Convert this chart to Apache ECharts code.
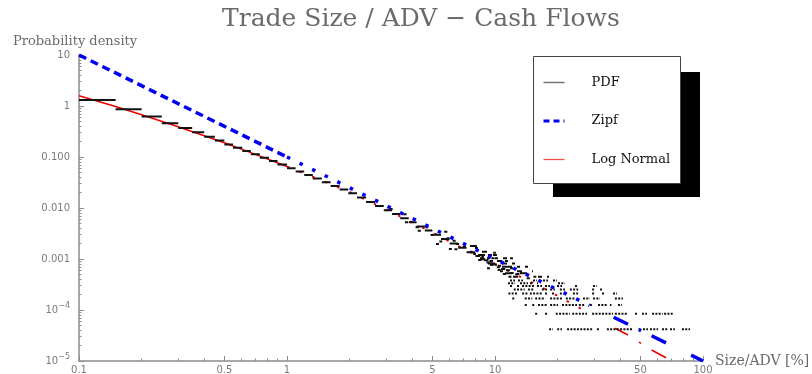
<!DOCTYPE html>
<html><head><meta charset="utf-8">
<script src="https://cdn.jsdelivr.net/npm/echarts@6/dist/echarts.min.js"></script>
<style>html,body{margin:0;padding:0;background:#fff}#c{width:812px;height:374px}</style>
</head><body><div id="c"></div>
<script>
// ---- axis ticks / labels ----
const xMajorTicks = [0.1, 0.5, 1, 5, 10, 50, 100];
const xTickLabels = ['0.1', '0.5', '1', '5', '10', '50', '100'];
const xMinorTicks = [0.2,0.3,0.4,0.6,0.7,0.8,0.9,2,3,4,6,7,8,9,20,30,40,60,70,80,90];
const yMajorTicks = [1e-5, 1e-4, 1e-3, 1e-2, 1e-1, 1, 10];
const yTickLabels = ['10^−5', '10^−4', '0.001', '0.010', '0.100', '1', '10'];
const yMinorTicks = [2e-5,3e-5,4e-5,5e-5,6e-5,7e-5,8e-5,9e-5,
  2e-4,3e-4,4e-4,5e-4,6e-4,7e-4,8e-4,9e-4,
  0.002,0.003,0.004,0.005,0.006,0.007,0.008,0.009,
  0.02,0.03,0.04,0.05,0.06,0.07,0.08,0.09,
  0.2,0.3,0.4,0.5,0.6,0.7,0.8,0.9,
  2,3,4,5,6,7,8,9];

// ---- PDF histogram: [xStart, xEnd, density] ----
const pdfBins = [[0.10,0.15,1.31],[0.15,0.20,0.86],[0.20,0.25,0.62],[0.25,0.30,0.46],[0.30,0.35,0.37],
  [0.35,0.40,0.305],[0.40,0.45,0.25],[0.45,0.50,0.21],[0.50,0.55,0.176]];
const pdfBand = [[0.55,0.61,0.152],[0.61,0.67,0.131],[0.67,0.74,0.113],[0.74,0.82,0.0967],[0.82,0.90,0.0832],
  [0.90,1.0,0.0711],[1.0,1.1,0.0604],[1.1,1.21,0.0519],[1.21,1.33,0.0443],[1.33,1.47,0.0378],[1.47,1.62,0.032],
  [1.62,1.79,0.0271],[1.79,1.97,0.023],[1.97,2.17,0.0195],[2.17,2.4,0.016],[2.4,2.65,0.0131],[2.65,2.92,0.0109],
  [2.92,3.2,0.00908],[3.2,3.5,0.0076],[3.5,3.85,0.00628],[3.85,4.2,0.00524],[4.2,4.6,0.00434],[4.6,5.0,0.00364],
  [5.0,5.5,0.00299],[5.5,6.05,0.00247],[6.05,6.65,0.00201],[6.65,7.3,0.00166],[7.3,8.05,0.00136],
  [8.05,8.5,0.00115],[8.6,8.85,0.0011],[8.85,9.3,0.00094],[9.4,9.75,0.0009],[9.75,10.2,0.00078],
  [10.3,10.7,0.00074],[10.7,11.2,0.00064],[11.3,11.8,0.0006],[11.8,12.3,0.00053],[12.5,13.0,0.0005]];
const pdfScatter = [[3.10,3.22,0.00955],[3.62,3.76,0.0075],[3.69,3.82,0.00525],[4.15,4.30,0.0042],[4.25,4.40,0.0036],
  [4.62,4.78,0.0042],[4.90,5.07,0.00296],[5.70,5.90,0.00343],[5.85,6.05,0.00254],[5.40,5.58,0.0022],[5.20,5.38,0.00197],
  [6.25,6.47,0.00229],[6.50,6.72,0.00197],[6.38,6.60,0.00155],[6.00,6.20,0.00157],[7.00,7.25,0.00174],[7.55,7.80,0.00139],
  [7.85,8.10,0.00125],[8.45,8.75,0.0012],[8.60,8.90,0.00099],[8.30,8.60,0.00096],[9.10,9.40,0.00085],[9.60,9.95,0.00103],
  [9.80,10.1,0.00133],[9.45,9.75,0.00076],[10.2,10.55,0.00069],[10.3,10.65,0.00061],[10.9,11.3,0.00051],[12.7,13.1,0.00051],
  [11.6,12.0,0.00045],[14.2,14.7,0.00042],[15.3,15.8,0.00045],
  [7.58,8.19,0.0018],[8.01,8.28,0.00165],[8.66,9.15,0.00139],[8.28,8.95,0.0012],[9.25,9.67,0.0012],[9.78,10.22,0.0012],
  [8.47,8.76,0.00103],[9.15,9.46,0.00103],[10.0,10.34,0.00103],[10.93,11.42,0.00103],[11.81,12.2,0.00103],
  [9.46,9.78,0.00091],[10.22,10.8,0.00091],[11.17,11.55,0.00091],[9.25,10.0,0.00082],[10.8,11.42,0.00082],
  [12.07,12.48,0.00082],[10.8,12.07,0.000706],[12.76,13.19,0.000706],[13.94,14.41,0.000706],[9.15,9.46,0.00066],
  [11.81,12.2,0.00066],[10.57,10.93,0.000576],[12.76,13.49,0.000576],[15.06,15.23,0.000576],[11.17,12.07,0.000526],
  [13.19,14.25,0.000526],[12.2,12.9,0.00045],[16.1,16.83,0.00045],[17.78,18.18,0.00045]];
// tail rows at discrete density levels: [density, [[xStart,xEnd],...]]
const pdfRows = [
  [0.000378, [[11.81,12.48],[12.9,13.63],[15.23,15.92],[17.01,17.98],[19.0,19.87]]],
  [0.000336, [[11.55,12.48],[13.19,14.41],[14.73,15.23],[15.92,16.1],[20.09,21.7]]],
  [0.000294, [[11.81,12.2],[12.76,13.19],[13.49,15.57],[15.92,16.83],[17.39,18.38],[19.87,21.0],[24.25,25.06],[29.6,30.9]]],
  [0.000252, [[12.3,13.9],[14.4,15.4],[16.8,17.8],[18.4,19.4],[20.5,21.7],[22.9,25.1],[29.3,30.3],[32.0,33.0]]],
  [0.00021,  [[11.6,12.8],[13.5,14.4],[14.7,16.8],[17.4,18.0],[18.8,19.4],[20.5,21.0],[23.7,25.1],[29.3,30.3],[32.7,33.8],[36.9,38.6]]],
  [0.000168, [[12.1,12.5],[13.9,15.1],[15.6,17.4],[18.4,21.0],[21.9,24.2],[26.5,28.6],[29.6,32.0],[37.7,41.2]]],
  [0.000126, [[13.9,14.4],[15.1,15.6],[16.1,17.8],[18.4,20.1],[21.0,24.8],[25.3,27.1],[28.6,29.6],[31.3,34.5],[35.7,36.3],[39.0,40.8]]],
  [0.000084, [[15.6,16.1],[17.4,18.0],[19.6,22.9],[23.5,27.7],[29.3,36.9],[37.7,43.1],[47.1,48.7],[50.9,53.8],[56.9,64.0],[65.0,71.8]]],
  [0.000042, [[18.2,19.0],[19.9,21.0],[22.2,29.6],[30.9,32.0],[34.5,46.1],[49.0,49.8],[51.5,54.4],[55.6,60.8],[63.5,67.9],[69.4,73.3],[79.2,86.6]]]
];

// ---- model curves [x, density] ----
const zipfUpper = [[0.1,10],[1.0,0.1]];
const zipfMid = [[1.0,0.1],[28.5,1.23e-4]];
const zipfTail = [[37.2,7.2e-5],[43.6,5.26e-5],null,[49.2,4.13e-5],[50.4,3.94e-5],null,[56.6,3.12e-5],[66.4,2.27e-5],null,[87.7,1.3e-5],[100,1.0e-5]];
const lnUpper = [[0.1,1.59],[0.15,0.975],[0.2,0.676],[0.3,0.392],[0.5,0.19],[0.7,0.114],[1.0,0.065]];
const lnMid = [[1.0,0.065],[1.5,0.0336],[2,0.0206],[3,0.00933],[5,0.00331],[7,0.00162],[10,0.00079],[15,0.000347],[18.4,0.000229],[24.5,0.00012],[28.5,8.6e-5]];
const lnTail = [[37.8,4.37e-5],[43.6,3.24e-5],null,[49.2,2.35e-5],[50.4,2.22e-5],null,[56.6,1.64e-5],[66.4,1.16e-5]];

// ---- helpers ----
const GAP = ['-','-'];
function segData(list){ const out=[]; list.forEach(s=>{ out.push([s[0],s[2]],[s[1],s[2]],GAP); }); return out; }
function rowData(rows){ const out=[]; rows.forEach(r=>{ r[1].forEach(s=>{ out.push([s[0],r[0]],[s[1],r[0]],GAP); }); }); return out; }
function gaps(arr){ return arr.map(p=> p===null ? GAP : p); }
function idxOf(ticks, v){ let b=0,d=1e9; ticks.forEach((t,i)=>{ const dd=Math.abs(Math.log10(t)-Math.log10(v)); if(dd<d){d=dd;b=i;} }); return b; }

const GRAY='#7a7a7a', AXC='#8c8c8c';
const labelFont = {fontFamily:'DejaVu Sans', fontSize:10, color:GRAY};
const serif = 'DejaVu Serif';

const baseLine = {type:'line', symbol:'none', showSymbol:false, connectNulls:false, animation:false, silent:true};
const RED='#ee0000', BLUE='#0000ee', BLK='#111';
const NOSYM = {color:'rgba(0,0,0,0)', borderColor:'rgba(0,0,0,0)', borderWidth:0};

const chart = echarts.init(document.getElementById('c'), null, {renderer:'canvas'});
chart.setOption({
  animation:false,
  backgroundColor:'#fff',
  title:[
    {text:'Trade Size / ADV − Cash Flows', left:222, top:7, padding:0,
     textStyle:{fontFamily:serif, fontSize:25, fontWeight:'normal', color:'#6a6a6a'}},
    {text:'Probability density', left:13, top:35, padding:0,
     textStyle:{fontFamily:serif, fontSize:13, fontWeight:'normal', color:'#6a6a6a'}}
  ],
  graphic:[
    {type:'rect', z:5, silent:true, shape:{x:553, y:72, width:147, height:125}, style:{fill:'#000'}},
    {type:'rect', z:6, silent:true, shape:{x:533.5, y:56.5, width:147, height:127}, style:{fill:'#fff', stroke:'#444', lineWidth:1}}
  ],
  legend:{
    orient:'vertical', left:533, top:56, padding:[20,10,17,9], itemGap:25.5, itemWidth:21, itemHeight:14,
    z:10, selectedMode:false,
    itemStyle:NOSYM,
    textStyle:{fontFamily:serif, fontSize:13, color:'#111', padding:[0,0,0,22]},
    data:[
      {name:'PDF', itemStyle:NOSYM, lineStyle:{color:'#777', width:1.5, type:'solid'}},
      {name:'Zipf', itemStyle:NOSYM, lineStyle:{color:BLUE, width:3, type:[6,4]}},
      {name:'Log Normal', itemStyle:NOSYM, lineStyle:{color:'#f05050', width:1.3, type:'solid'}}
    ]
  },
  grid:{left:79, right:109, top:55, bottom:13, containLabel:false, outerBoundsMode:'none'},
  xAxis:[
    {type:'log', logBase:10, min:0.1, max:100, position:'bottom',
     axisLine:{show:true, lineStyle:{color:AXC, width:1.5}},
     axisTick:{show:true, inside:true, length:5, customValues:xMajorTicks, lineStyle:{color:AXC, width:1}},
     axisLabel:Object.assign({show:true, customValues:xMajorTicks, margin:4, showMinLabel:true, showMaxLabel:true,
       formatter:v=>xTickLabels[idxOf(xMajorTicks,v)]}, labelFont),
     splitLine:{show:false}, minorTick:{show:false},
     name:'Size/ADV [%]', nameLocation:'end', nameGap:12, nameMoveOverlap:false,
     nameTextStyle:{fontFamily:serif, fontSize:14, color:'#6a6a6a', align:'left', verticalAlign:'middle'}},
    {type:'log', logBase:10, min:0.1, max:100, position:'bottom',
     axisLine:{show:false}, axisLabel:{show:false}, splitLine:{show:false},
     axisTick:{show:true, inside:true, length:2.5, customValues:xMinorTicks, lineStyle:{color:AXC, width:1}}}
  ],
  yAxis:[
    {type:'log', logBase:10, min:1e-5, max:10, position:'left',
     axisLine:{show:true, lineStyle:{color:AXC, width:1.5}},
     axisTick:{show:true, inside:true, length:5, customValues:yMajorTicks, lineStyle:{color:AXC, width:1}},
     axisLabel:Object.assign({show:true, customValues:yMajorTicks, margin:9, showMinLabel:true, showMaxLabel:true,
       formatter:v=>{ const t=yTickLabels[idxOf(yMajorTicks,v)]; if(t.indexOf('^')>=0){ const p=t.split('^'); return '{b|'+p[0]+'}{s|'+p[1]+'}'; } return t; },
       rich:{b:{fontFamily:'DejaVu Sans', fontSize:10, color:GRAY}, s:{fontFamily:'DejaVu Sans', fontSize:8, color:GRAY, padding:[0,0,9,0]}}}, labelFont),
     splitLine:{show:false}, minorTick:{show:false}},
    {type:'log', logBase:10, min:1e-5, max:10, position:'left',
     axisLine:{show:false}, axisLabel:{show:false}, splitLine:{show:false},
     axisTick:{show:true, inside:true, length:2.5, customValues:yMinorTicks, lineStyle:{color:AXC, width:1}}}
  ],
  series:[
    Object.assign({}, baseLine, {name:'Log Normal', itemStyle:{color:RED}, data:lnUpper, lineStyle:{color:RED, width:1.5}}),
    Object.assign({}, baseLine, {name:'Log Normal', itemStyle:{color:RED}, data:lnMid, lineStyle:{color:RED, width:2, type:[2.5,11]}}),
    Object.assign({}, baseLine, {name:'Log Normal', itemStyle:{color:RED}, data:gaps(lnTail), lineStyle:{color:RED, width:1.6}}),
    Object.assign({}, baseLine, {name:'PDF', itemStyle:{color:BLK}, data:segData(pdfBins.concat(pdfBand, pdfScatter)), lineStyle:{color:BLK, width:2, cap:'butt'}}),
    Object.assign({}, baseLine, {name:'PDF', itemStyle:{color:BLK}, data:rowData(pdfRows), lineStyle:{color:BLK, width:2, type:[2,1.3], cap:'butt'}}),
    Object.assign({}, baseLine, {name:'Zipf', itemStyle:{color:BLUE}, data:zipfUpper, lineStyle:{color:BLUE, width:3.5, type:[8,5]}}),
    Object.assign({}, baseLine, {name:'Zipf', itemStyle:{color:BLUE}, data:zipfMid, lineStyle:{color:BLUE, width:3.5, type:[3.5,10.5]}}),
    Object.assign({}, baseLine, {name:'Zipf', itemStyle:{color:BLUE}, data:gaps(zipfTail), lineStyle:{color:BLUE, width:3.5}})
  ]
});
</script></body></html>
